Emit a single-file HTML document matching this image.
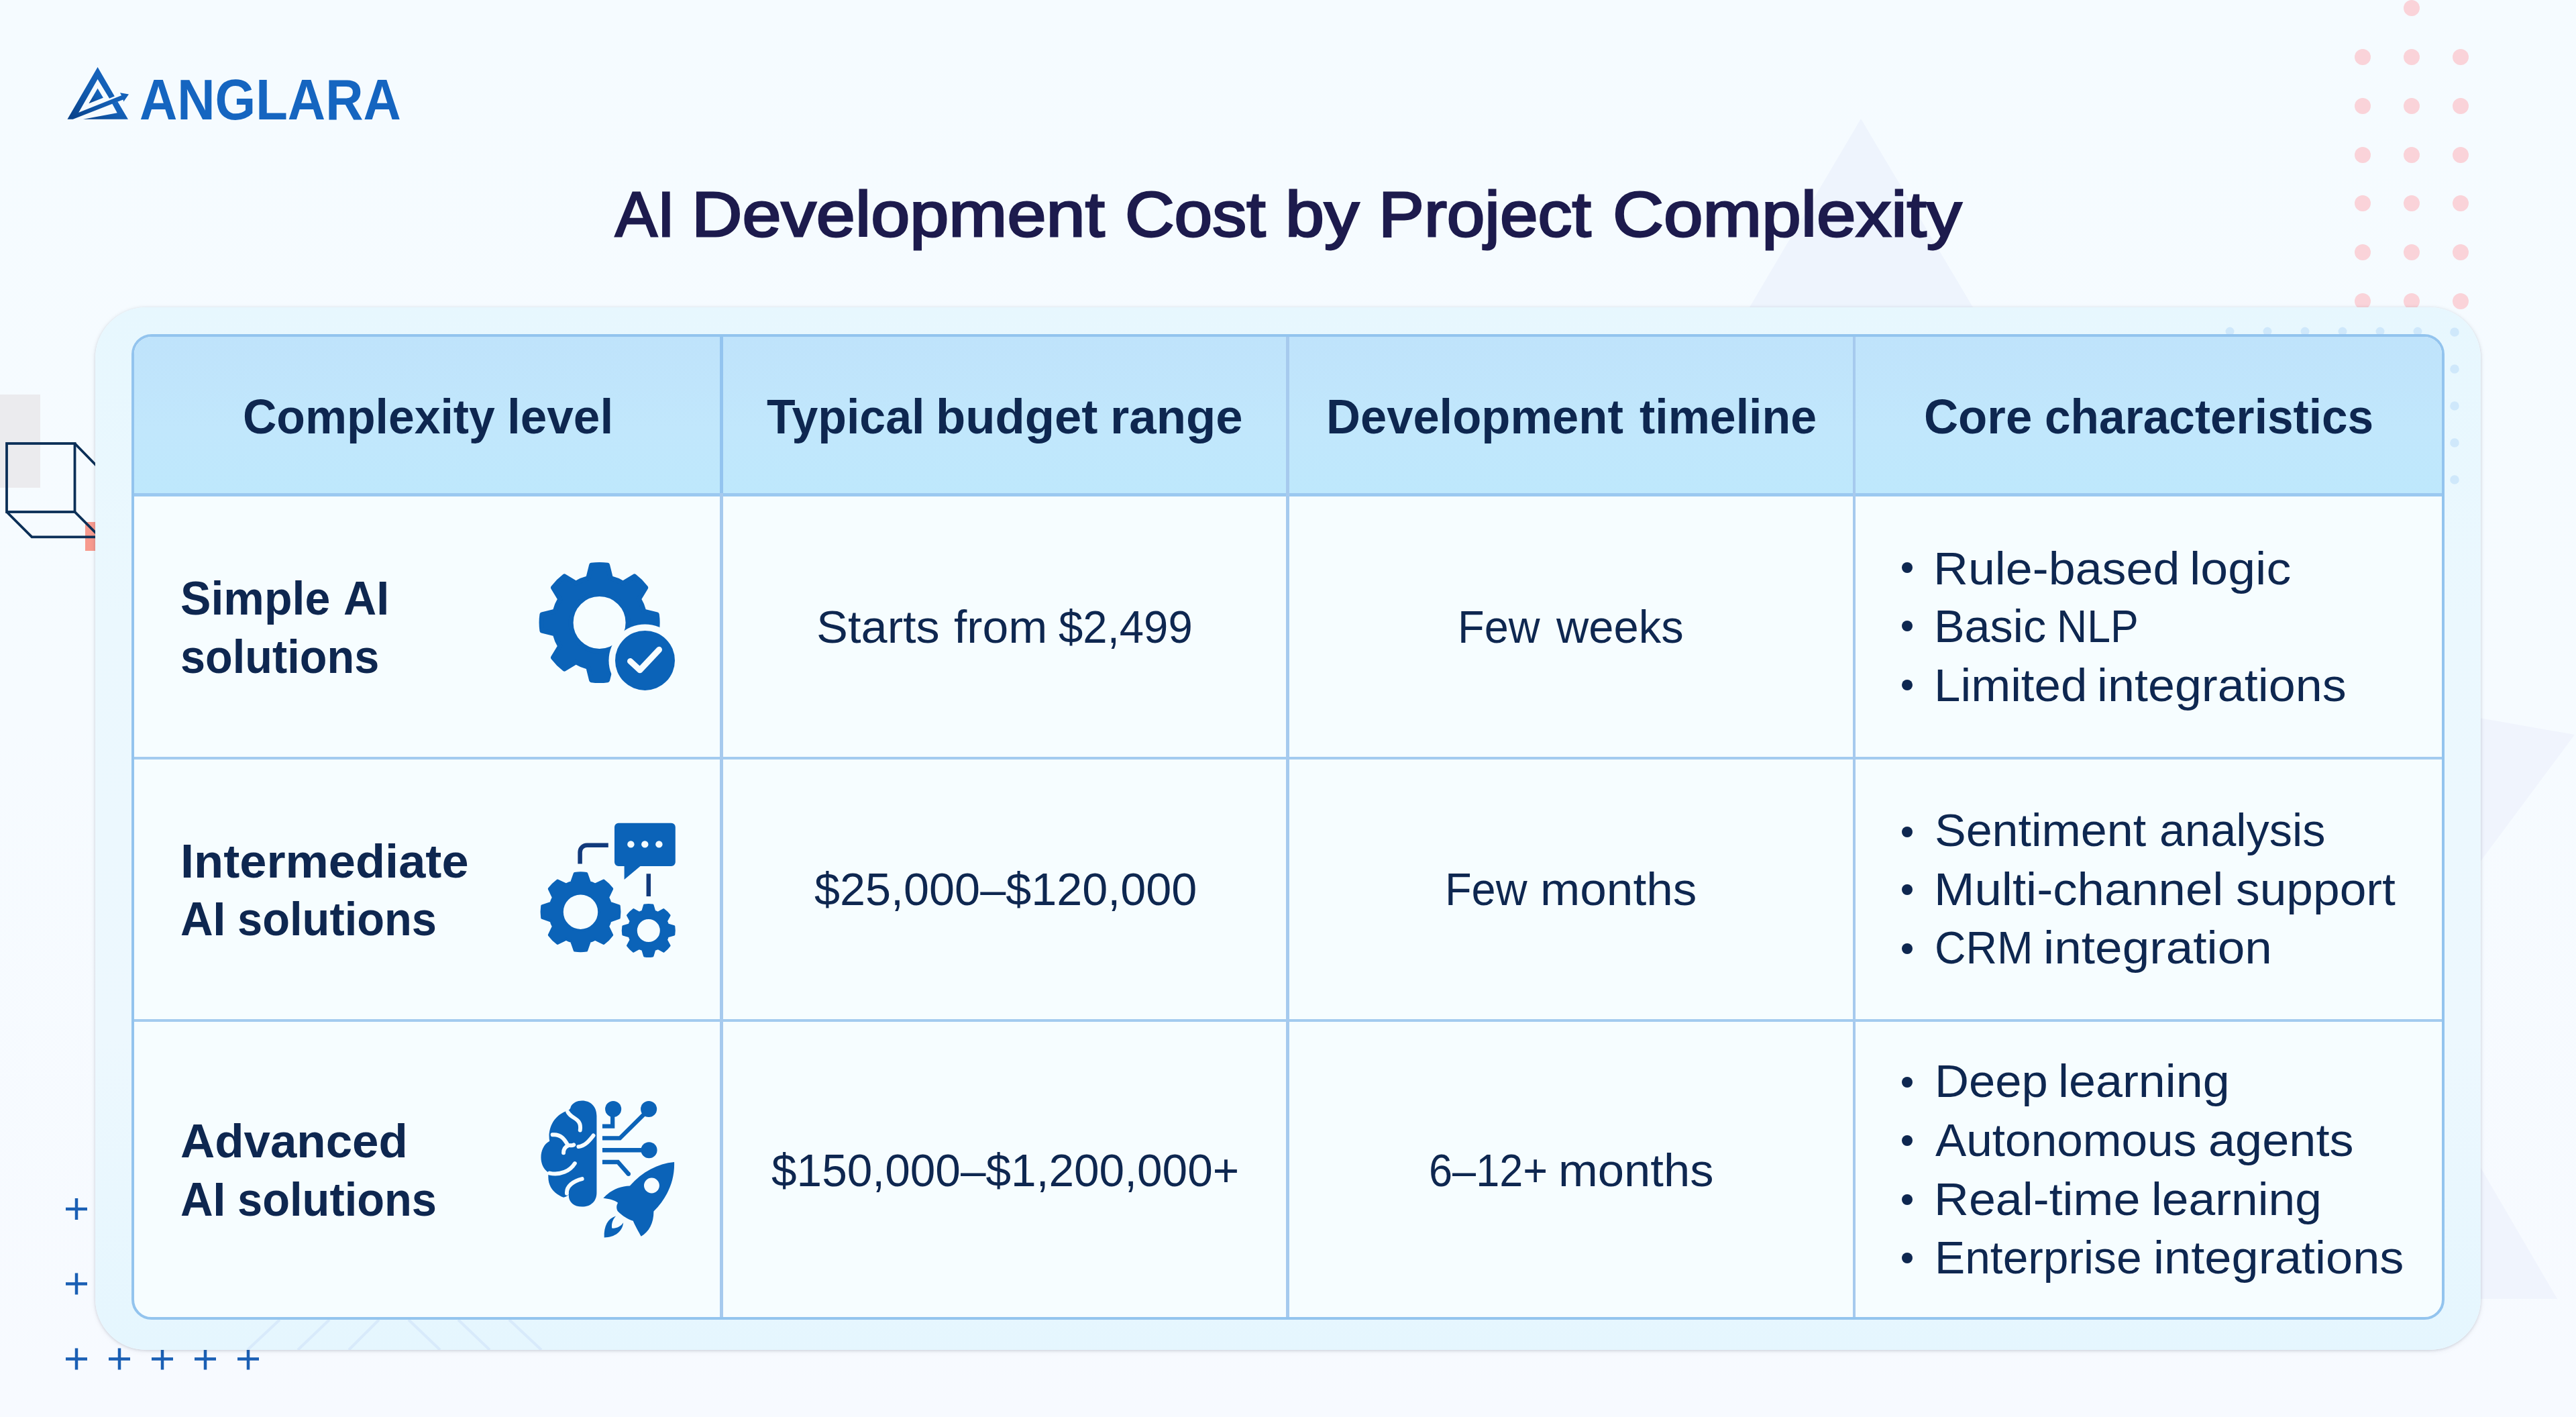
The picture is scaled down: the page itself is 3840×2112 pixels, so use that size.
<!DOCTYPE html>
<html lang="en">
<head>
<meta charset="utf-8">
<title>AI Development Cost by Project Complexity</title>
<style>
html,body{margin:0;padding:0;}
body{width:3840px;height:2112px;overflow:hidden;background:#f6fbff;font-family:"Liberation Sans",sans-serif;}
#page{position:relative;width:3840px;height:2112px;overflow:hidden;background:linear-gradient(180deg,#f5fbff 0%,#f6fbff 50%,#f7faff 100%);}
.abs{position:absolute;}
.t{position:absolute;white-space:pre;line-height:1;transform-origin:0 50%;font-family:"Liberation Sans",sans-serif;}
.tb{font-weight:bold;}
.tr{font-weight:normal;}
.bul{position:absolute;left:2834.5px;width:16px;height:16px;border-radius:50%;background:#0e2750;}
#card{position:absolute;left:142px;top:458px;width:3556px;height:1554px;border-radius:76px;
 background:linear-gradient(180deg,#e7f7fe 0%,#ebf8fe 30%,#edf8fe 70%,#e5f6fe 100%);
 box-shadow:0 1px 4px 0 rgba(70,75,95,.22),0 2px 9px 1px rgba(70,75,95,.05);}
#tbl{position:absolute;left:196px;top:498px;width:3448px;height:1469px;border-radius:30px;box-sizing:border-box;
 border:4.5px solid #93c4ee;background:#f6fdff;overflow:hidden;}
#thead{position:absolute;left:0;top:0;width:100%;height:233px;background:linear-gradient(180deg,#bfe3fb 0%,#c1e7fc 60%,#bee8fc 100%);}
.hl{position:absolute;left:0;width:100%;background:#a3cbef;}
.vl{position:absolute;top:0;height:100%;width:4.5px;background:#a6caee;}
</style>
</head>
<body>
<div id="page">
<!-- background decorations -->
<svg class="abs" style="left:0;top:0" width="3840" height="2112" viewBox="0 0 3840 2112">
  <polygon points="2774,177 2941,458 2608,458" fill="#eef4fd"/>
  <polygon points="3690,1069 3838,1095 3690,1294" fill="#f0f4fd"/>
  <polygon points="3690,1727 3812,1936 3690,1936" fill="#f0f4fd"/>
  <g fill="#fad3d9">
    <circle cx="3595" cy="12" r="12"/>
    <circle cx="3522" cy="85" r="12"/><circle cx="3595" cy="85" r="12"/><circle cx="3668" cy="85" r="12"/>
    <circle cx="3522" cy="158" r="12"/><circle cx="3595" cy="158" r="12"/><circle cx="3668" cy="158" r="12"/>
    <circle cx="3522" cy="231" r="12"/><circle cx="3595" cy="231" r="12"/><circle cx="3668" cy="231" r="12"/>
    <circle cx="3522" cy="303" r="12"/><circle cx="3595" cy="303" r="12"/><circle cx="3668" cy="303" r="12"/>
    <circle cx="3522" cy="376" r="12"/><circle cx="3595" cy="376" r="12"/><circle cx="3668" cy="376" r="12"/>
    <circle cx="3522" cy="449" r="12"/><circle cx="3595" cy="449" r="12"/><circle cx="3668" cy="449" r="12"/>
  </g>
  <rect x="0" y="588" width="60" height="139" fill="#ebebee"/>
  <rect x="127" y="778" width="20" height="43" fill="#f79a8e"/>
  <g fill="none" stroke="#0b2f57" stroke-width="3.8" stroke-linejoin="miter">
    <rect x="10" y="661" width="101.5" height="102"/>
    <path d="M10 763 L47.5 800.3 L150 800.3 M111.5 763 L150 801.5 M111.5 661 L150 700.5"/>
  </g>
  <g stroke="#1a5fb4" stroke-width="4.5" fill="none">
    <path d="M98 1802h32M114 1786v32"/>
    <path d="M98 1913.5h32M114 1897.5v32"/>
    <path d="M98 2025.5h32M114 2009.5v32"/>
    <path d="M162 2025.5h32M178 2009.5v32"/>
    <path d="M226 2025.5h32M242 2009.5v32"/>
    <path d="M290 2025.5h32M306 2009.5v32"/>
    <path d="M354 2025.5h32M370 2009.5v32"/>
  </g>
</svg>
<!-- card + table -->
<div id="card">
  <svg class="abs" style="left:0;top:0" width="3556" height="1554" viewBox="142 458 3556 1554">
    <g fill="#cbe6fb" opacity=".85">
      <circle cx="3324" cy="494" r="6.5"/><circle cx="3380" cy="494" r="6.5"/><circle cx="3436" cy="494" r="6.5"/><circle cx="3492" cy="494" r="6.5"/><circle cx="3548" cy="494" r="6.5"/><circle cx="3604" cy="494" r="6.5"/>
      <circle cx="3659" cy="495" r="6.8"/><circle cx="3659" cy="550" r="6.8"/><circle cx="3659" cy="605" r="6.8"/><circle cx="3659" cy="660" r="6.8"/><circle cx="3659" cy="715" r="6.8"/>
    </g>
    <g stroke="#d6e9fb" stroke-width="4" fill="none" opacity=".9">
      <path d="M417 1967L369 2012M491 1967L444 2012M565 1967L520 2012M609 1967L656 2012M683 1967L730 2012M759 1967L807 2012"/>
    </g>
  </svg>
</div>
<div id="tbl">
  <div id="thead"></div>
  <div class="hl" style="top:232.5px;height:5px;background:#9bc9f0"></div>
  <div class="hl" style="top:625.5px;height:4.5px"></div>
  <div class="hl" style="top:1016.8px;height:4.5px"></div>
  <div class="vl" style="left:873.1px"></div>
  <div class="vl" style="left:873.1px;height:233px;background:#93c4ef"></div>
  <div class="vl" style="left:1717px;height:233px;background:#93c4ef"></div>
  <div class="vl" style="left:2561.8px;height:233px;background:#93c4ef"></div>
  <div class="vl" style="left:1717px"></div>
  <div class="vl" style="left:2561.8px"></div>
</div>
<!-- icons -->
<svg class="abs" style="left:0;top:0" width="3840" height="2112" viewBox="0 0 3840 2112">
  <defs>
    <linearGradient id="lg" x1="1" y1="0" x2="0" y2="1"><stop offset="0" stop-color="#1768c6"/><stop offset="0.55" stop-color="#125cb0"/><stop offset="1" stop-color="#083f86"/></linearGradient>
    <mask id="m1"><rect x="780" y="820" width="260" height="230" fill="#fff"/><circle cx="961.5" cy="984.4" r="54" fill="#000"/></mask>
  </defs>
  <!-- logo mark -->
  <g transform="translate(90,90) scale(0.070588)" fill="url(#lg)">
    <polygon points="787,140 148,1243 265,1243 1215,872 1325,830 1335,870 1445,715 1260,685 1290,740 385,1100 787,395 1035,805 1145,757"/>
    <polygon points="1090,905 1210,872 1430,1243 480,1243 1200,1110"/>
    <polygon points="787,590 905,790 600,910"/>
  </g>
  <!-- icon 1: gear + check -->
  <g fill="#0b63b8" stroke="#0b63b8" stroke-width="7" stroke-linejoin="round">
    <path mask="url(#m1)" fill-rule="evenodd" d="M876.8 861.6L881.6 842.3A86.5 86.5 0 0 1 905.6 842.3L910.4 861.6A68.5 68.5 0 0 1 928.7 869.2L945.7 858.9A86.5 86.5 0 0 1 962.7 875.9L952.4 892.9A68.5 68.5 0 0 1 960.0 911.2L979.3 916.0A86.5 86.5 0 0 1 979.3 940.0L960.0 944.8A68.5 68.5 0 0 1 952.4 963.1L962.7 980.1A86.5 86.5 0 0 1 945.7 997.1L928.7 986.8A68.5 68.5 0 0 1 910.4 994.4L905.6 1013.7A86.5 86.5 0 0 1 881.6 1013.7L876.8 994.4A68.5 68.5 0 0 1 858.5 986.8L841.5 997.1A86.5 86.5 0 0 1 824.5 980.1L834.8 963.1A68.5 68.5 0 0 1 827.2 944.8L807.9 940.0A86.5 86.5 0 0 1 807.9 916.0L827.2 911.2A68.5 68.5 0 0 1 834.8 892.9L824.5 875.9A86.5 86.5 0 0 1 841.5 858.9L858.5 869.2A68.5 68.5 0 0 1 876.8 861.6ZM936.1 928.0A42.5 42.5 0 1 0 851.1 928.0A42.5 42.5 0 1 0 936.1 928.0Z"/>
  </g>
  <circle cx="961.5" cy="984.4" r="44.5" fill="#0b63b8"/>
  <path d="M939.5 985.5 L953.8 998.8 L982.5 968.3" fill="none" stroke="#f6fdff" stroke-width="9" stroke-linecap="round" stroke-linejoin="round"/>
  <!-- icon 2: gears + chat -->
  <g fill="#0b63b8" stroke="#0b63b8" stroke-width="4" stroke-linejoin="round">
    <path fill-rule="evenodd" d="M852.1 1315.2L856.8 1301.9A58 58 0 0 1 874.2 1301.9L878.9 1315.2A46 46 0 0 1 887.1 1318.6L899.9 1312.5A58 58 0 0 1 912.2 1324.8L906.1 1337.6A46 46 0 0 1 909.5 1345.8L922.8 1350.5A58 58 0 0 1 922.8 1367.9L909.5 1372.6A46 46 0 0 1 906.1 1380.8L912.2 1393.6A58 58 0 0 1 899.9 1405.9L887.1 1399.8A46 46 0 0 1 878.9 1403.2L874.2 1416.5A58 58 0 0 1 856.8 1416.5L852.1 1403.2A46 46 0 0 1 843.9 1399.8L831.1 1405.9A58 58 0 0 1 818.8 1393.6L824.9 1380.8A46 46 0 0 1 821.5 1372.6L808.2 1367.9A58 58 0 0 1 808.2 1350.5L821.5 1345.8A46 46 0 0 1 824.9 1337.6L818.8 1324.8A58 58 0 0 1 831.1 1312.5L843.9 1318.6A46 46 0 0 1 852.1 1315.2ZM893.2 1359.2A27.7 27.7 0 1 0 837.8 1359.2A27.7 27.7 0 1 0 893.2 1359.2Z"/>
    <path fill-rule="evenodd" stroke-width="3" d="M957.8 1358.3L960.6 1348.9A38.5 38.5 0 0 1 973.0 1348.9L975.8 1358.3A30 30 0 0 1 980.7 1360.3L989.3 1355.6A38.5 38.5 0 0 1 998.1 1364.4L993.4 1373.0A30 30 0 0 1 995.4 1377.9L1004.8 1380.7A38.5 38.5 0 0 1 1004.8 1393.1L995.4 1395.9A30 30 0 0 1 993.4 1400.8L998.1 1409.4A38.5 38.5 0 0 1 989.3 1418.2L980.7 1413.5A30 30 0 0 1 975.8 1415.5L973.0 1424.9A38.5 38.5 0 0 1 960.6 1424.9L957.8 1415.5A30 30 0 0 1 952.9 1413.5L944.3 1418.2A38.5 38.5 0 0 1 935.5 1409.4L940.2 1400.8A30 30 0 0 1 938.2 1395.9L928.8 1393.1A38.5 38.5 0 0 1 928.8 1380.7L938.2 1377.9A30 30 0 0 1 940.2 1373.0L935.5 1364.4A38.5 38.5 0 0 1 944.3 1355.6L952.9 1360.3A30 30 0 0 1 957.8 1358.3ZM985.3 1386.9A18.5 18.5 0 1 0 948.3 1386.9A18.5 18.5 0 1 0 985.3 1386.9Z"/>
  </g>
  <path d="M922 1226.7h78.8a6 6 0 0 1 6 6v52.3a6 6 0 0 1 -6 6H954.5L930.6 1311V1291H922a6 6 0 0 1 -6 -6v-52.3a6 6 0 0 1 6 -6Z" fill="#0b63b8"/>
  <g fill="#f3fbff"><circle cx="940.4" cy="1258.4" r="5.2"/><circle cx="961.3" cy="1258.4" r="5.2"/><circle cx="982.4" cy="1258.4" r="5.2"/></g>
  <g fill="none" stroke="#123a7c" stroke-width="6.5">
    <path d="M906.8 1259.7H875a10.4 10.4 0 0 0 -10.4 10.4V1287.5"/>
    <path d="M966.8 1302.3V1336"/>
  </g>
  <!-- icon 3: brain + circuit + rocket -->
  <g transform="translate(760,1600) scale(0.19763)">
    <path fill="#0b63b8" d="M545 205C610 205 655 250 655 320L655 900C655 965 610 1005 545 1005C480 1005 440 965 445 915C430 925 415 935 405 935C340 910 290 860 290 780L290 745C215 700 215 555 300 510C285 440 315 325 425 285C445 280 458 265 460 250C472 222 510 205 545 205Z"/>
    <g fill="none" stroke="#f6fdff" stroke-width="30" stroke-linecap="round" stroke-linejoin="round">
      <path d="M437 290C465 345 545 335 530 428"/>
      <path d="M322 462C385 455 415 500 437 540C460 545 470 545 482 538"/>
      <path d="M437 545C415 555 405 575 405 598"/>
      <path d="M518 552C570 545 600 505 630 468"/>
      <path d="M300 752C380 770 455 735 490 678"/>
      <path d="M430 905C425 850 480 810 545 795"/>
    </g>
    <g fill="#0b63b8">
      <circle cx="780" cy="268" r="61"/><circle cx="1048" cy="268" r="61"/><circle cx="1050" cy="578" r="61"/><circle cx="895" cy="758" r="16"/>
    </g>
    <g fill="none" stroke="#0b63b8" stroke-width="32" stroke-linejoin="miter">
      <path d="M698 398H775V300"/>
      <path d="M698 488H830L1030 290"/>
      <path d="M698 578H1040"/>
      <path d="M698 668H815L895 758"/>
    </g>
    <path fill="#0b63b8" d="M1240 668C1115 680 1000 740 905 848C830 850 760 880 705 940C745 945 790 955 815 975C800 1000 805 1025 815 1040C850 1075 890 1100 930 1112C945 1150 975 1200 990 1228C1050 1195 1085 1130 1085 1040C1185 940 1245 815 1240 668Z"/>
    <circle cx="1070" cy="845" r="58" fill="#f6fdff"/>
    <path fill="#0b63b8" d="M800 1075C740 1092 708 1150 712 1237C792 1237 850 1192 856 1125C835 1158 795 1172 770 1166C765 1130 778 1098 800 1075Z"/>
  </g>
</svg>

<!-- text -->
<div class="t tb" style="left:208.2px;top:105.2px;font-size:86px;color:#1565c0;transform:scaleX(0.9064)">ANGLARA</div>
<div class="t tr" style="left:916.9px;top:271.6px;font-size:95px;color:#1d1b4d;-webkit-text-stroke:2.8px #1d1b4d;transform:scaleX(0.9921)">AI</div>
<div class="t tr" style="left:1031.2px;top:271.6px;font-size:95px;color:#1d1b4d;-webkit-text-stroke:2.8px #1d1b4d;transform:scaleX(1.0999)">Development</div>
<div class="t tr" style="left:1676.5px;top:271.6px;font-size:95px;color:#1d1b4d;-webkit-text-stroke:2.8px #1d1b4d;transform:scaleX(1.0731)">Cost</div>
<div class="t tr" style="left:1916.1px;top:271.6px;font-size:95px;color:#1d1b4d;-webkit-text-stroke:2.8px #1d1b4d;transform:scaleX(1.0980)">by</div>
<div class="t tr" style="left:2055.0px;top:271.6px;font-size:95px;color:#1d1b4d;-webkit-text-stroke:2.8px #1d1b4d;transform:scaleX(1.0712)">Project</div>
<div class="t tr" style="left:2403.8px;top:271.6px;font-size:95px;color:#1d1b4d;-webkit-text-stroke:2.8px #1d1b4d;transform:scaleX(1.1077)">Complexity</div>
<div class="t tb" style="left:362.3px;top:585.1px;font-size:72px;color:#0e2750;transform:scaleX(0.9683)">Complexity</div>
<div class="t tb" style="left:756.1px;top:585.1px;font-size:72px;color:#0e2750;transform:scaleX(0.9878)">level</div>
<div class="t tb" style="left:1143.4px;top:585.1px;font-size:72px;color:#0e2750;transform:scaleX(0.9699)">Typical</div>
<div class="t tb" style="left:1394.5px;top:585.1px;font-size:72px;color:#0e2750;transform:scaleX(1.0065)">budget</div>
<div class="t tb" style="left:1655.0px;top:585.1px;font-size:72px;color:#0e2750;transform:scaleX(1.0083)">range</div>
<div class="t tb" style="left:1976.9px;top:585.1px;font-size:72px;color:#0e2750;transform:scaleX(0.9796)">Development</div>
<div class="t tb" style="left:2443.5px;top:585.1px;font-size:72px;color:#0e2750;transform:scaleX(0.9703)">timeline</div>
<div class="t tb" style="left:2868.4px;top:585.1px;font-size:72px;color:#0e2750;transform:scaleX(0.9831)">Core</div>
<div class="t tb" style="left:3047.5px;top:585.1px;font-size:72px;color:#0e2750;transform:scaleX(0.9643)">characteristics</div>
<div class="t tb" style="left:269.4px;top:856.4px;font-size:71px;color:#0e2750;transform:scaleX(0.9594)">Simple</div>
<div class="t tb" style="left:511.5px;top:856.4px;font-size:71px;color:#0e2750;transform:scaleX(0.9590)">AI</div>
<div class="t tb" style="left:269.1px;top:942.6px;font-size:71px;color:#0e2750;transform:scaleX(0.9387)">solutions</div>
<div class="t tb" style="left:268.9px;top:1247.7px;font-size:71px;color:#0e2750;transform:scaleX(1.0175)">Intermediate</div>
<div class="t tb" style="left:269.0px;top:1333.5px;font-size:71px;color:#0e2750;transform:scaleX(0.9483)">AI</div>
<div class="t tb" style="left:354.1px;top:1333.5px;font-size:71px;color:#0e2750;transform:scaleX(0.9413)">solutions</div>
<div class="t tb" style="left:268.5px;top:1664.7px;font-size:71px;color:#0e2750;transform:scaleX(0.9986)">Advanced</div>
<div class="t tb" style="left:269.0px;top:1751.5px;font-size:71px;color:#0e2750;transform:scaleX(0.9483)">AI</div>
<div class="t tb" style="left:354.1px;top:1751.5px;font-size:71px;color:#0e2750;transform:scaleX(0.9413)">solutions</div>
<div class="t tr" style="left:1216.8px;top:899.6px;font-size:69px;color:#0e2750;transform:scaleX(1.0199)">Starts</div>
<div class="t tr" style="left:1421.7px;top:899.6px;font-size:69px;color:#0e2750;transform:scaleX(1.0096)">from</div>
<div class="t tr" style="left:1578.3px;top:899.6px;font-size:69px;color:#0e2750;transform:scaleX(0.9465)">$2,499</div>
<div class="t tr" style="left:2172.9px;top:899.6px;font-size:69px;color:#0e2750;transform:scaleX(0.9409)">Few</div>
<div class="t tr" style="left:2319.6px;top:899.6px;font-size:69px;color:#0e2750;transform:scaleX(0.9697)">weeks</div>
<div class="t tr" style="left:1214.0px;top:1291.0px;font-size:69px;color:#0e2750;transform:scaleX(0.9909)">$25,000–$120,000</div>
<div class="t tr" style="left:2154.3px;top:1291.0px;font-size:69px;color:#0e2750;transform:scaleX(0.9401)">Few</div>
<div class="t tr" style="left:2295.9px;top:1291.0px;font-size:69px;color:#0e2750;transform:scaleX(1.0315)">months</div>
<div class="t tr" style="left:1150.0px;top:1709.6px;font-size:69px;color:#0e2750;transform:scaleX(0.9795)">$150,000–$1,200,000+</div>
<div class="t tr" style="left:2129.6px;top:1709.6px;font-size:69px;color:#0e2750;transform:scaleX(0.9141)">6–12+</div>
<div class="t tr" style="left:2322.6px;top:1709.6px;font-size:69px;color:#0e2750;transform:scaleX(1.0233)">months</div>
<div class="t tr" style="left:2882.4px;top:812.6px;font-size:69px;color:#0e2750;transform:scaleX(1.0413)">Rule-based</div>
<div class="t tr" style="left:3264.2px;top:812.6px;font-size:69px;color:#0e2750;transform:scaleX(1.0652)">logic</div>
<div class="t tr" style="left:2882.7px;top:899.1px;font-size:69px;color:#0e2750;transform:scaleX(0.9900)">Basic</div>
<div class="t tr" style="left:3065.9px;top:899.1px;font-size:69px;color:#0e2750;transform:scaleX(0.9073)">NLP</div>
<div class="t tr" style="left:2882.5px;top:986.9px;font-size:69px;color:#0e2750;transform:scaleX(1.0265)">Limited</div>
<div class="t tr" style="left:3126.0px;top:986.9px;font-size:69px;color:#0e2750;transform:scaleX(1.0416)">integrations</div>
<div class="t tr" style="left:2883.6px;top:1203.4px;font-size:69px;color:#0e2750;transform:scaleX(1.0143)">Sentiment</div>
<div class="t tr" style="left:3219.4px;top:1203.4px;font-size:69px;color:#0e2750;transform:scaleX(0.9923)">analysis</div>
<div class="t tr" style="left:2883.3px;top:1290.5px;font-size:69px;color:#0e2750;transform:scaleX(1.0513)">Multi-channel</div>
<div class="t tr" style="left:3332.5px;top:1290.5px;font-size:69px;color:#0e2750;transform:scaleX(1.0337)">support</div>
<div class="t tr" style="left:2883.8px;top:1377.6px;font-size:69px;color:#0e2750;transform:scaleX(0.9330)">CRM</div>
<div class="t tr" style="left:3045.7px;top:1377.6px;font-size:69px;color:#0e2750;transform:scaleX(1.0581)">integration</div>
<div class="t tr" style="left:2883.5px;top:1577.3px;font-size:69px;color:#0e2750;transform:scaleX(1.0236)">Deep</div>
<div class="t tr" style="left:3067.9px;top:1577.3px;font-size:69px;color:#0e2750;transform:scaleX(1.0416)">learning</div>
<div class="t tr" style="left:2885.2px;top:1665.1px;font-size:69px;color:#0e2750;transform:scaleX(1.0049)">Autonomous</div>
<div class="t tr" style="left:3292.1px;top:1665.1px;font-size:69px;color:#0e2750;transform:scaleX(1.0451)">agents</div>
<div class="t tr" style="left:2883.4px;top:1752.6px;font-size:69px;color:#0e2750;transform:scaleX(1.0411)">Real-time</div>
<div class="t tr" style="left:3207.1px;top:1752.6px;font-size:69px;color:#0e2750;transform:scaleX(1.0344)">learning</div>
<div class="t tr" style="left:2883.7px;top:1840.3px;font-size:69px;color:#0e2750;transform:scaleX(0.9814)">Enterprise</div>
<div class="t tr" style="left:3209.7px;top:1840.3px;font-size:69px;color:#0e2750;transform:scaleX(1.0468)">integrations</div>
<div class="bul" style="top:838.4px"></div>
<div class="bul" style="top:925.0px"></div>
<div class="bul" style="top:1012.5px"></div>
<div class="bul" style="top:1231.6px"></div>
<div class="bul" style="top:1318.4px"></div>
<div class="bul" style="top:1405.5px"></div>
<div class="bul" style="top:1604.8px"></div>
<div class="bul" style="top:1691.9px"></div>
<div class="bul" style="top:1779.7px"></div>
<div class="bul" style="top:1866.8px"></div>
</div>
</body>
</html>
